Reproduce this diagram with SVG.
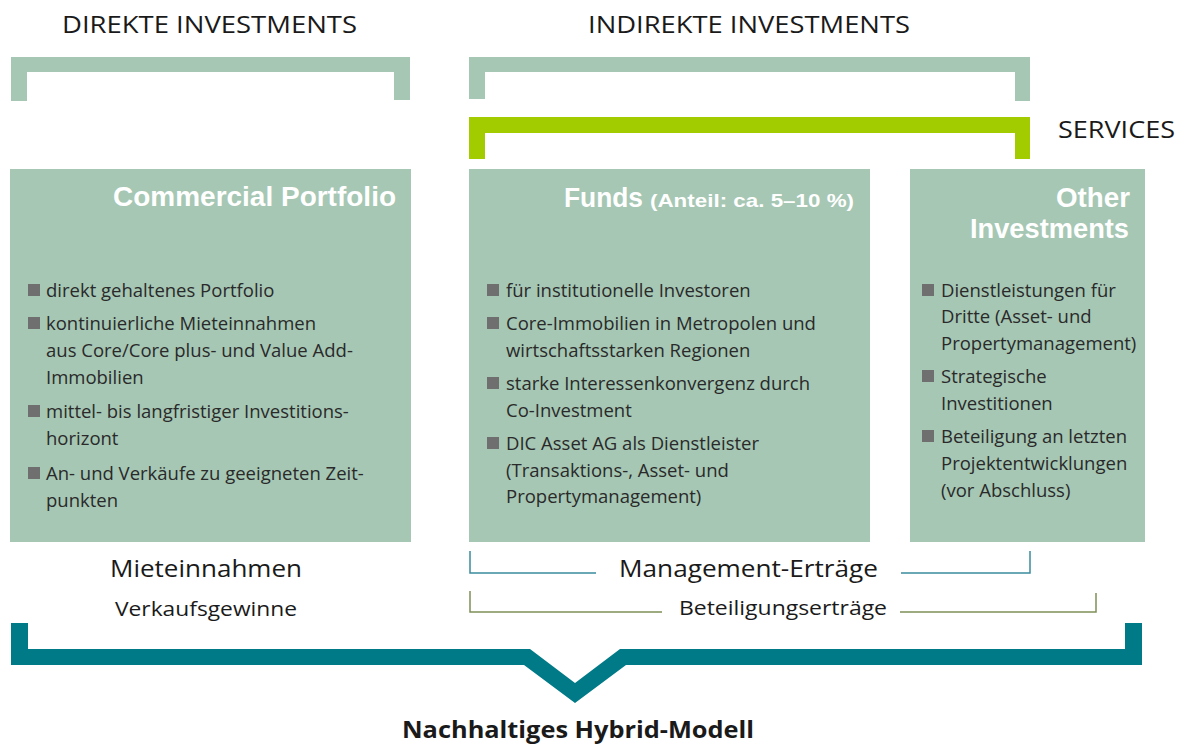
<svg xmlns="http://www.w3.org/2000/svg" width="1178" height="744" viewBox="0 0 1178 744">
<style>
.bk{fill:#a6c7b4}
.svc{fill:#a2cb00}
.box{fill:#a6c7b4}
.hd{font-family:"Open Sans","Liberation Sans",sans-serif;font-size:24px;fill:#1a1a1a}
.ttl{font-family:"Liberation Sans","Open Sans",sans-serif;font-weight:bold;fill:#ffffff}
.bl{font-family:"Open Sans","Liberation Sans",sans-serif;font-size:18.5px;fill:#2a2a2a}
.sq{fill:#6f6f6f}
.lbl{font-family:"Open Sans","Liberation Sans",sans-serif;fill:#1a1a1a}
.mgmt{fill:none;stroke:#3a8c9e;stroke-width:1.5}
.bet{fill:none;stroke:#7f8f55;stroke-width:1.5}
</style>
<rect width="1178" height="744" fill="#ffffff"/>

<g id="header-direkt">
<text class="hd" x="62" y="33" textLength="295" lengthAdjust="spacingAndGlyphs">DIREKTE INVESTMENTS</text>
<path class="bk" d="M11,57 H410 V100 H394 V72 H27 V101 H11 Z"/>
</g>
<g id="header-indirekt">
<text class="hd" x="588" y="33" textLength="322" lengthAdjust="spacingAndGlyphs">INDIREKTE INVESTMENTS</text>
<path class="bk" d="M469,57 H1030 V101 H1015 V72 H485 V99 H469 Z"/>
</g>
<g id="header-services">
<path class="svc" d="M469,117 H1030 V159 H1015 V133 H485 V159 H469 Z"/>
<text class="hd" x="1058" y="138" textLength="117" lengthAdjust="spacingAndGlyphs">SERVICES</text>
</g>

<g id="node-commercial">
<rect class="box" x="10" y="169" width="401" height="373"/>
<text class="ttl" x="113" y="206" font-size="27" textLength="283" lengthAdjust="spacingAndGlyphs">Commercial Portfolio</text>
<rect class="sq" x="28" y="284" width="12" height="12"/>
<text class="bl" x="46" y="297">direkt gehaltenes Portfolio</text>
<rect class="sq" x="28" y="317" width="12" height="12"/>
<text class="bl" x="46" y="330">kontinuierliche Mieteinnahmen</text>
<text class="bl" x="46" y="357">aus Core/Core plus- und Value Add-</text>
<text class="bl" x="46" y="384">Immobilien</text>
<rect class="sq" x="28" y="405" width="12" height="12"/>
<text class="bl" x="46" y="418">mittel- bis langfristiger Investitions-</text>
<text class="bl" x="46" y="445">horizont</text>
<rect class="sq" x="28" y="467" width="12" height="12"/>
<text class="bl" x="46" y="480">An- und Verkäufe zu geeigneten Zeit-</text>
<text class="bl" x="46" y="507">punkten</text>
</g>

<g id="node-funds">
<rect class="box" x="469" y="169" width="401" height="373"/>
<text class="ttl" x="564" y="207"><tspan font-size="27" textLength="79" lengthAdjust="spacingAndGlyphs">Funds</tspan><tspan x="650" font-size="19" textLength="204" lengthAdjust="spacingAndGlyphs">(Anteil: ca. 5–10 %)</tspan></text>
<rect class="sq" x="487" y="284" width="12" height="12"/>
<text class="bl" x="506" y="297">für institutionelle Investoren</text>
<rect class="sq" x="487" y="317" width="12" height="12"/>
<text class="bl" x="506" y="330">Core-Immobilien in Metropolen und</text>
<text class="bl" x="506" y="357">wirtschaftsstarken Regionen</text>
<rect class="sq" x="487" y="377" width="12" height="12"/>
<text class="bl" x="506" y="390">starke Interessenkonvergenz durch</text>
<text class="bl" x="506" y="417">Co-Investment</text>
<rect class="sq" x="487" y="437" width="12" height="12"/>
<text class="bl" x="506" y="450">DIC Asset AG als Dienstleister</text>
<text class="bl" x="506" y="477">(Transaktions-, Asset- und</text>
<text class="bl" x="506" y="503">Propertymanagement)</text>
</g>

<g id="node-other">
<rect class="box" x="910" y="169" width="235" height="373"/>
<text class="ttl" x="1056" y="207" font-size="27" textLength="74" lengthAdjust="spacingAndGlyphs">Other</text>
<text class="ttl" x="970" y="238" font-size="27" textLength="159" lengthAdjust="spacingAndGlyphs">Investments</text>
<rect class="sq" x="922" y="284" width="12" height="12"/>
<text class="bl" x="941" y="297">Dienstleistungen für</text>
<text class="bl" x="941" y="323">Dritte (Asset- und</text>
<text class="bl" x="941" y="350">Propertymanagement)</text>
<rect class="sq" x="922" y="370" width="12" height="12"/>
<text class="bl" x="941" y="383">Strategische</text>
<text class="bl" x="941" y="410">Investitionen</text>
<rect class="sq" x="922" y="430" width="12" height="12"/>
<text class="bl" x="941" y="443">Beteiligung an letzten</text>
<text class="bl" x="941" y="470">Projektentwicklungen</text>
<text class="bl" x="941" y="497">(vor Abschluss)</text>
</g>

<g id="income-direkt">
<text class="lbl" x="110" y="577" font-size="24" textLength="192" lengthAdjust="spacingAndGlyphs">Mieteinnahmen</text>
<text class="lbl" x="115" y="616" font-size="19.5" textLength="182" lengthAdjust="spacingAndGlyphs">Verkaufsgewinne</text>
</g>

<g id="connectors">
<path class="mgmt" d="M470,551 V573 H596 M901,573 H1030 V551"/>
<path class="bet" d="M470,591 V612 H662 M900,612 H1096 V593"/>
<path id="hybrid-bracket" fill="#007a87" d="M11,623 H28 V649 H530 L575,683 L620,649 H1125 V623 H1142 V665 H626 L575,703 L524,665 H11 Z"/>
</g>

<g id="income-indirekt">
<text class="lbl" x="619" y="577" font-size="24" textLength="259" lengthAdjust="spacingAndGlyphs">Management-Erträge</text>
<text class="lbl" x="679" y="615" font-size="19.5" textLength="208" lengthAdjust="spacingAndGlyphs">Beteiligungserträge</text>
</g>

<g id="node-hybrid">
<text class="lbl" x="402" y="738" font-size="24" font-weight="bold" textLength="352" lengthAdjust="spacingAndGlyphs">Nachhaltiges Hybrid-Modell</text>
</g>
</svg>
